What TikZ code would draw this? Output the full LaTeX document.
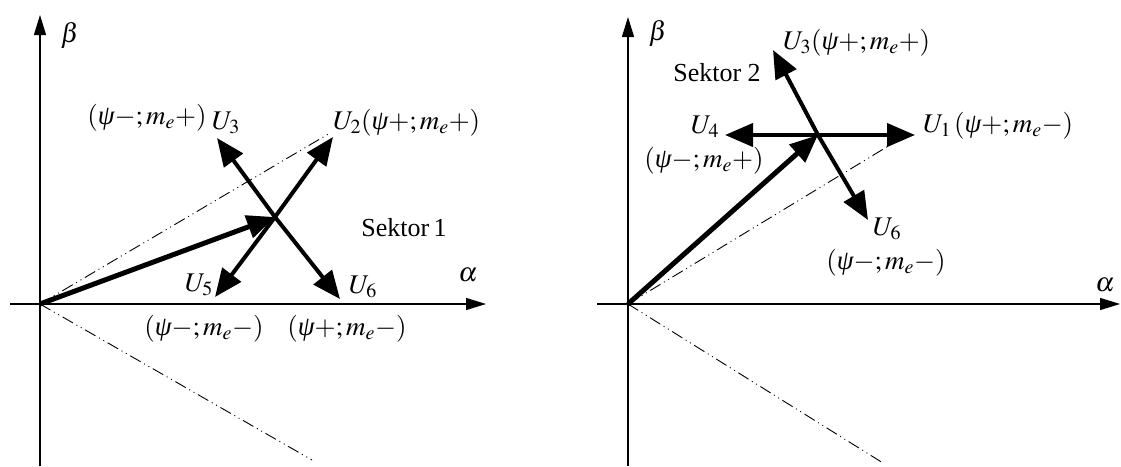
\documentclass[tikz,border=0pt]{standalone}
\usepackage{mathptmx}
\usepackage{fontspec}
\setmainfont{Liberation Serif}
\usetikzlibrary{arrows.meta}
\newcommand{\fpsi}{\mbox{\itshape ψ}}

\begin{document}
\begin{tikzpicture}[x=1pt,y=-1pt,
    axis/.style={line width=1.4pt, -{Triangle[length=20pt,width=12pt]}},
    vec/.style={line width=4pt, -{Triangle[length=28pt,width=23pt]}},
    flux/.style={line width=5pt, -{Triangle[length=28pt,width=23pt]}},
    sector/.style={line width=0.9pt, dash pattern=on 12pt off 4pt on 1pt off 4pt on 1pt off 4pt},
    lbl/.style={inner sep=0pt, font=\fontsize{27}{30}\selectfont},
    txt/.style={inner sep=0pt, font=\fontsize{26}{30}\selectfont}]
  \useasboundingbox (0,0) rectangle (1121,466);

  % ---------- left panel: sector 1 ----------
  \coordinate (O1) at (40,304);
  \coordinate (C1) at (275,217);
  % axes
  \draw[axis] (40,466) -- (40,15);
  \draw[axis] (10,304) -- (486,304);
  \node[lbl] (b1) at (70,35) {$\beta$};
  \node[lbl] (a1) at (468,275) {$\alpha$};
  % sector borders at +-30 deg
  \coordinate (S1a) at (330,133);
  \coordinate (S1b) at (312,460);
  \draw[sector] (O1) -- (S1a);
  \draw[sector] (O1) -- (S1b);
  % flux vector and the four voltage vectors
  \coordinate (T12) at (333,137);
  \coordinate (T13) at (217,138);
  \coordinate (T15) at (215,297);
  \coordinate (T16) at (340,299);
  \draw[flux] (O1) -- (C1);
  \foreach \t in {T12,T13,T15,T16}{
    \draw[vec] (C1) -- (\t);
  }
  % labels
  \node[lbl] (u13) at (226,123) {$U_3$};
  \node[lbl] (s13) at (147,118) {$(\fpsi{-};m_e{+})$};
  \node[lbl, anchor=west] (u12) at (333,123) {$U_2(\fpsi{+};m_e{+})$};
  \node[txt] (sek1) at (404,228) {Sektor\,1};
  \node[lbl] (u15) at (199,285) {$U_5$};
  \node[lbl] (u16) at (363,287) {$U_6$};
  \node[lbl] (s15) at (204,329) {$(\fpsi{-};m_e{-})$};
  \node[lbl] (s16) at (347,329) {$(\fpsi{+};m_e{-})$};

  % ---------- right panel: sector 2 ----------
  \coordinate (O2) at (628,304);
  \coordinate (C2) at (818,135);
  % axes
  \draw[axis] (628,466) -- (628,17);
  \draw[axis] (597,304) -- (1120,304);
  \node[lbl] (b2) at (658,33) {$\beta$};
  \node[lbl] (a2) at (1105,285) {$\alpha$};
  % sector borders
  \coordinate (S2a) at (890,145);
  \coordinate (S2b) at (883,463);
  \draw[sector] (O2) -- (S2a);
  \draw[sector] (O2) -- (S2b);
  % flux vector and the four voltage vectors
  \coordinate (T21) at (915,135);
  \coordinate (T24) at (725,135);
  \coordinate (T23) at (773,50);
  \coordinate (T26) at (868,220);
  \draw[flux] (O2) -- (C2);
  \foreach \t in {T21,T24,T23,T26}{
    \draw[vec] (C2) -- (\t);
  }
  % labels
  \node[lbl, anchor=west] (u23) at (783,43) {$U_3(\fpsi{+};m_e{+})$};
  \node[txt] (sek2) at (717,73) {Sektor 2};
  \node[lbl] (u24) at (705,127) {$U_4$};
  \node[lbl] (s24) at (704,161) {$(\fpsi{-};m_e{+})$};
  \node[lbl, anchor=west] (u21) at (923,126) {$U_1\,(\fpsi{+};m_e{-})$};
  \node[lbl] (u26) at (887,229) {$U_6$};
  \node[lbl] (s26) at (886,263) {$(\fpsi{-};m_e{-})$};
\end{tikzpicture}
\end{document}
